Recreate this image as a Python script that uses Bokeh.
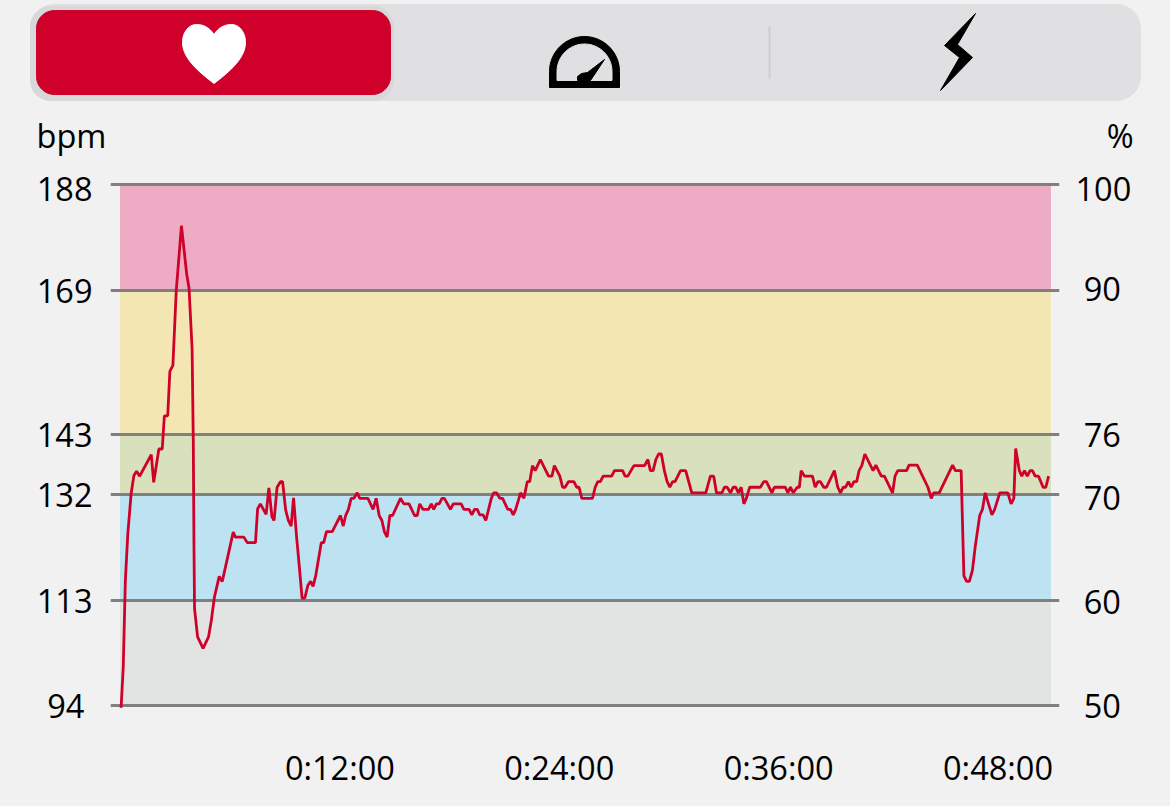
# Heart rate zones over a session
import numpy as np

from bokeh.core.properties import value
from bokeh.embed import file_html
from bokeh.layouts import column
from bokeh.models import FixedTicker, LinearAxis, Range1d
from bokeh.plotting import figure
from bokeh.resources import INLINE

# session in seconds / heart rate in bpm
seconds = [2, 9, 16, 24, 35, 44, 53, 63, 101, 109, 126, 137, 144, 155, 162, 172, 183, 200, 217, 225,
           235, 239, 241, 243, 253, 271, 289, 298, 308, 324, 334, 370, 377, 405, 416, 443, 450, 459,
           478, 487, 497, 504, 514, 525, 532, 542, 551, 560, 568, 578, 586, 596, 605, 615, 624, 632,
           641, 659, 667, 676, 695, 722, 731, 739, 748, 757, 766, 777, 785, 812, 829, 839, 849, 858,
           866, 875, 884, 893, 919, 930, 947, 965, 974, 982, 993, 1011, 1020, 1028, 1037, 1046, 1055,
           1063, 1083, 1092, 1118, 1127, 1144, 1153, 1162, 1171, 1179, 1190, 1199, 1217, 1225, 1234,
           1245, 1254, 1271, 1280, 1289, 1297, 1313, 1324, 1335, 1343, 1352, 1361, 1378, 1405, 1416,
           1424, 1442, 1451, 1459, 1470, 1488, 1497, 1505, 1514, 1549, 1558, 1566, 1575, 1584, 1612,
           1621, 1648, 1656, 1665, 1685, 1720, 1731, 1739, 1748, 1757, 1766, 1775, 1785, 1794, 1803,
           1812, 1820, 1838, 1855, 1875, 1921, 1936, 1947, 1956, 1974, 1982, 1991, 2002, 2011, 2019,
           2028, 2037, 2046, 2054, 2065, 2100, 2111, 2120, 2138, 2146, 2182, 2190, 2199, 2208, 2221,
           2228, 2234, 2245, 2271, 2280, 2289, 2297, 2308, 2317, 2343, 2354, 2363, 2372, 2380, 2389,
           2398, 2407, 2416, 2424, 2433, 2443, 2470, 2479, 2497, 2507, 2534, 2542, 2551, 2580, 2588,
           2615, 2650, 2661, 2669, 2687, 2731, 2740, 2759, 2768, 2777, 2786, 2796, 2805, 2820, 2829,
           2838, 2860, 2869, 2886, 2912, 2923, 2932, 2938, 2950, 2958, 2967, 2976, 2985, 2993, 3002,
           3013, 3028, 3037, 3046]
bpm = [93.6, 100.9, 116.6, 125, 132.3, 135.5, 136.3, 135.4, 139.3, 134.3, 140.3, 140.3, 146.3, 146.3,
       154.3, 155.4, 168.9, 180.6, 172, 169.3, 158.4, 141.3, 123.8, 111.5, 106.4, 104.3, 106.4, 109.3,
       113.5, 117.3, 116.4, 125.3, 124.4, 124.4, 123.4, 123.4, 129.5, 130.4, 128.5, 133.3, 128.1, 127.4,
       133.4, 134.4, 134.4, 129.3, 127.4, 126.4, 131.5, 124.4, 119.6, 113.4, 113.4, 115.7, 116.4, 115.5,
       117.5, 123.4, 123.4, 125.4, 125.4, 128.3, 126.4, 128.3, 129.4, 131.4, 131.4, 132.4, 131.4, 131.4,
       129.4, 131.4, 128.3, 127.4, 125.4, 124.4, 128.3, 128.3, 131.4, 130.4, 130.4, 128.3, 128.3, 130.4,
       129.4, 129.4, 130.4, 129.4, 130.4, 130.4, 131.4, 131.4, 129.4, 130.4, 130.4, 129.4, 129.4, 128.4,
       129.4, 129.4, 128.4, 128.4, 127.4, 131.4, 132.4, 132.4, 131.4, 131.4, 129.4, 129.4, 128.4, 129.4,
       132.4, 131.4, 134.4, 134.4, 137.3, 136.4, 138.4, 135.4, 135.4, 137.3, 135.4, 133.4, 133.4, 134.4,
       134.4, 133.4, 133.4, 131.4, 131.4, 133.4, 134.4, 134.4, 135.4, 135.4, 136.4, 136.4, 135.4, 135.4,
       137.3, 137.3, 138.4, 136.4, 136.4, 138.4, 139.4, 139.4, 136.4, 134.4, 133.4, 134.4, 134.4, 136.4,
       136.4, 132.4, 132.4, 135.4, 135.4, 132.4, 132.4, 133.4, 133.4, 132.4, 133.4, 133.4, 132.4, 133.4,
       130.4, 131.4, 133.4, 133.4, 134.4, 134.4, 132.4, 133.4, 133.4, 132.4, 133.4, 132.4, 133.4, 133.4,
       136.4, 135.4, 135.4, 133.4, 134.4, 134.4, 133.4, 133.4, 136.4, 133.4, 132.4, 133.4, 133.4, 134.4,
       133.4, 134.4, 134.4, 136.4, 137.3, 139.4, 136.4, 137.4, 135.4, 135.4, 132.4, 135.4, 136.4, 136.4,
       137.4, 137.4, 133.4, 131.4, 132.4, 132.4, 137.4, 136.4, 136.4, 117.4, 116.4, 116.4, 118.4, 122.6,
       128.3, 129.4, 132.4, 128.4, 129.4, 132.4, 132.4, 130.4, 131.4, 140.4, 136.4, 135.4, 136.4, 135.4,
       136.4, 136.4, 135.4, 135.4, 133.4, 133.4, 135.4]

# training zones
zone_edges = [94, 113, 132, 143, 169, 188]
zone_colors = ["#e2e4e3", "#bde2f1", "#d9e0bc", "#f4e6b3", "#eeabc4"]
session_end = 3052
pct_ticks = [50, 60, 70, 76, 90, 100]
time_ticks = [720, 1440, 2160, 2880]
time_labels = ["0:12:00", "0:24:00", "0:36:00", "0:48:00"]

BG = "#f1f1f1"
RED = "#cf0029"
FONT = "Open Sans"
FONT_SIZE = "32.5px"


def rounded_rect(x0, y0, x1, y1, r):
    a = np.linspace(0, np.pi / 2, 12)
    xs = np.concatenate([x1 - r + r * np.sin(a), x1 - r + r * np.cos(a), x0 + r - r * np.sin(a), x0 + r - r * np.cos(a)])
    ys = np.concatenate([y0 + r - r * np.cos(a), y1 - r + r * np.sin(a), y1 - r + r * np.cos(a), y0 + r - r * np.sin(a)])
    return xs, ys


def bezier(p0, p1, p2, p3):
    t = np.linspace(0, 1, 16)[:, None]
    pts = (1 - t) ** 3 * np.array(p0) + 3 * t * (1 - t) ** 2 * np.array(p1) + 3 * t ** 2 * (1 - t) * np.array(p2) + t ** 3 * np.array(p3)
    return pts


# header with the tab bar and the two unit captions
head = figure(width=1170, height=165, x_range=Range1d(0, 1170), y_range=Range1d(165, 0),
              output_backend="svg", toolbar_location=None, min_border=0, frame_align=False,
              background_fill_color=BG, border_fill_color=BG, outline_line_color=None)
head.axis.visible = False
head.grid.visible = False

xs, ys = rounded_rect(30, 4, 1140, 100, 24)
head.patch(xs, ys, color="#e0e0e2")
xs, ys = rounded_rect(30, 6, 393, 100, 20)
head.patch(xs, ys, color="#d8d8da")
xs, ys = rounded_rect(36, 10, 390, 94, 18)
head.patch(xs, ys, color=RED)
head.line([769, 769], [26, 78], color="#cdcdd1", line_width=2)

# heart
right = np.vstack([bezier((213.5, 34), (218, 27), (224, 24), (231, 24)),
                   bezier((231, 24), (239, 24), (245, 32), (245, 42)),
                   bezier((245, 42), (245, 58), (228, 72), (213.5, 83))])
head.patch(np.concatenate([right[:, 0], 427 - right[::-1, 0]]),
           np.concatenate([right[:, 1], right[::-1, 1]]), color="white")

# gauge
a = np.linspace(np.pi, 0, 40)
head.patch(np.concatenate([[549], 584 + 35 * np.cos(a), [619]]),
           np.concatenate([[87], 71 - 35 * np.sin(a), [87]]), color="black")
head.patch(np.concatenate([[556.5], 584 + 27.5 * np.cos(a), [611.5]]),
           np.concatenate([[80], 71 - 27.5 * np.sin(a), [80]]), color="#e0e0e2")
head.patch([604, 590, 577, 577, 581, 587], [59, 80, 80, 76, 73, 72], color="black")

# bolt
head.patch([975, 944, 959, 940, 972, 957], [13, 45, 57, 90, 57, 44], color="black")

head.text([36], [135], text=["bpm"], text_font=value(FONT), text_font_size=FONT_SIZE,
          text_color="black", text_baseline="middle", text_align="left")
head.text([1133], [135], text=["%"], text_font=value(FONT), text_font_size=FONT_SIZE,
          text_color="black", text_baseline="middle", text_align="right")

# chart, the frame is a bit wider than the zones so the grey lines stick out
p = figure(width=1170, height=635, frame_width=949, frame_height=530,
           x_range=Range1d(-32.8, 3081.8), y_range=Range1d(93.1, 188.77),
           output_backend="svg", toolbar_location=None, frame_align=False,
           min_border_left=110, min_border_right=111, min_border_top=15, min_border_bottom=90,
           background_fill_color=BG, border_fill_color=BG, outline_line_color=None)
p.grid.visible = False

p.quad(left=0, right=session_end, bottom=zone_edges[:-1], top=zone_edges[1:], color=zone_colors)
p.hspan(y=zone_edges, line_color="#808080", line_width=3)
p.line(seconds, bpm, color=RED, line_width=2.8)


def style_axis(axis):
    axis.axis_line_color = None
    axis.major_tick_line_color = None
    axis.minor_tick_line_color = None
    axis.major_label_text_font = FONT
    axis.major_label_text_font_size = FONT_SIZE
    axis.major_label_text_color = "black"


p.yaxis.ticker = FixedTicker(ticks=zone_edges)
p.yaxis.major_label_overrides = {94: "94\u2005"}
p.yaxis.major_label_standoff = 12
style_axis(p.yaxis[0])

p.extra_y_ranges = {"pct": Range1d(93.1 / 1.88, 188.77 / 1.88)}
pct_axis = LinearAxis(y_range_name="pct", ticker=FixedTicker(ticks=pct_ticks),
                      major_label_overrides={t: "\u2005" + str(t) for t in pct_ticks if t < 100},
                      major_label_standoff=10)
style_axis(pct_axis)
p.add_layout(pct_axis, "right")

p.xaxis.ticker = FixedTicker(ticks=time_ticks)
p.xaxis.major_label_overrides = dict(zip(time_ticks, time_labels))
p.xaxis.major_label_standoff = 28
style_axis(p.xaxis[0])

page = column(head, p, spacing=0)
html = file_html(page, INLINE)
html = html.replace("</head>", "<style>html,body{margin:0;background:%s;overflow:hidden}</style></head>" % BG)
open("out.html", "w").write(html)
